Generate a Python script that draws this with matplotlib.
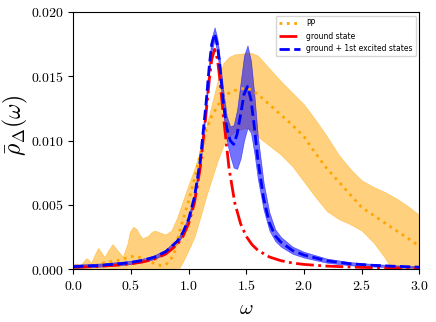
import numpy as np
import matplotlib
matplotlib.use("Agg")
import matplotlib.pyplot as plt
from matplotlib.ticker import FormatStrFormatter

plt.rcParams["mathtext.fontset"] = "cm"

# values, in units of 1e-3

# PP (orange, dotted mean + band)
w_pp = [0.0, 0.1, 0.2, 0.26, 0.3, 0.4, 0.45, 0.53, 0.6, 0.65, 0.7, 0.76, 0.8, 0.84, 0.88,
        0.92, 0.95, 1.0, 1.05, 1.1, 1.15, 1.2, 1.25, 1.3, 1.35, 1.4, 1.45, 1.5, 1.55, 1.6,
        1.7, 1.8, 1.9, 2.0, 2.1, 2.2, 2.3, 2.4, 2.5, 2.6, 2.7, 2.8, 2.9, 3.0]
pp_mean = [0.15, 0.2, 0.3, 0.47, 0.55, 0.7, 0.85, 1.03, 0.86, 0.65, 0.45, 0.28, 0.35, 0.65, 1.4,
           2.9, 3.8, 5.3, 7.0, 8.9, 10.8, 11.9, 12.7, 13.3, 13.7, 13.9, 14.0, 14.1, 13.9, 13.6,
           12.8, 12.0, 11.2, 10.3, 9.0, 7.8, 6.8, 5.8, 4.8, 4.2, 3.6, 3.0, 2.4, 1.8]

w_pp_up = [0.0, 0.03, 0.06, 0.09, 0.11, 0.13, 0.155, 0.19, 0.215, 0.24, 0.27, 0.30, 0.34,
           0.38, 0.43, 0.47, 0.49, 0.52, 0.55, 0.57, 0.60, 0.65, 0.68, 0.71, 0.75, 0.80,
           0.85, 0.9, 0.95, 1.0, 1.05, 1.1, 1.15, 1.2, 1.25, 1.3, 1.35, 1.4, 1.5, 1.55, 1.6,
           1.7, 1.8, 1.9, 2.0, 2.1, 2.2, 2.3, 2.4, 2.5, 2.6, 2.7, 2.8, 2.9, 3.0]
pp_up = [0.35, 0.45, 0.3, 0.6, 0.85, 0.75, 0.5, 1.2, 1.65, 1.35, 0.95, 1.4, 1.95,
         1.5, 0.98, 2.0, 2.9, 3.3, 3.1, 2.75, 2.4, 2.6, 2.9, 3.0, 2.85, 2.7,
         3.0, 4.0, 5.3, 6.6, 7.8, 9.2, 11.0, 12.8, 14.6, 16.0, 16.5, 16.7, 16.8, 16.8, 16.6,
         15.6, 14.6, 13.7, 12.8, 11.6, 10.3, 8.9, 7.8, 6.9, 6.4, 6.0, 5.5, 4.9, 4.2]

w_pp_lo = [0.0, 0.5, 0.8, 0.92, 1.0, 1.05, 1.1, 1.15, 1.2, 1.25, 1.3, 1.35, 1.4, 1.45, 1.5,
           1.55, 1.6, 1.7, 1.8, 1.9, 2.0, 2.1, 2.2, 2.3, 2.4, 2.5, 2.6, 2.7, 2.75, 2.8, 2.9, 3.0]
pp_lo = [-2.0, -2.0, -1.2, 0.0, 1.5, 2.5, 4.0, 5.6, 7.0, 8.4, 9.6, 10.3, 10.7, 10.9, 11.0,
         10.8, 10.3, 9.6, 8.9, 8.0, 6.8, 5.6, 4.5, 3.9, 3.5, 3.0, 2.1, 0.9, 0.2, -0.6, -1.8, -3.0]

# ground state (red)
w_gs = [0.0, 0.2, 0.4, 0.5, 0.6, 0.7, 0.8, 0.9, 0.95, 1.0, 1.05, 1.1, 1.15, 1.18, 1.2, 1.225,
        1.25, 1.27, 1.3, 1.35, 1.4, 1.45, 1.5, 1.55, 1.6, 1.7, 1.8, 1.9, 2.0, 2.2, 2.5, 2.8, 3.0]
gs = [0.15, 0.21, 0.33, 0.42, 0.56, 0.78, 1.17, 1.9, 2.54, 3.54, 5.15, 7.84, 12.0, 14.8, 16.3, 17.1,
      16.3, 14.8, 12.0, 7.84, 5.15, 3.54, 2.54, 1.9, 1.47, 0.95, 0.66, 0.48, 0.37, 0.24, 0.14, 0.09, 0.07]

# ground + 1st excited states (blue)
w_ex = [0.0, 0.2, 0.4, 0.5, 0.6, 0.7, 0.8, 0.9, 0.95, 1.0, 1.05, 1.1, 1.15, 1.18, 1.2, 1.225,
        1.25, 1.27, 1.3, 1.33, 1.36, 1.39, 1.42, 1.45, 1.48, 1.51, 1.54, 1.57, 1.6, 1.65, 1.7,
        1.75, 1.8, 1.9, 2.0, 2.2, 2.4, 2.6, 2.8, 3.0]
ex = [0.2, 0.28, 0.42, 0.52, 0.68, 0.92, 1.35, 2.15, 2.85, 3.9, 5.6, 8.4, 12.8, 15.9, 17.5, 18.3,
      17.4, 15.8, 13.0, 11.0, 10.0, 9.7, 10.5, 12.0, 13.6, 14.2, 13.2, 11.0, 8.5, 5.5, 3.6,
      2.6, 2.1, 1.45, 1.1, 0.65, 0.42, 0.3, 0.22, 0.16]
ex_up = [0.35, 0.42, 0.56, 0.66, 0.82, 1.07, 1.52, 2.35, 3.05, 4.15, 5.9, 8.8, 13.3, 16.4, 18.0, 18.8,
         17.9, 16.4, 13.9, 11.9, 11.1, 11.2, 12.4, 14.5, 16.6, 17.4, 16.2, 13.5, 10.3, 6.7, 4.4,
         3.1, 2.5, 1.75, 1.35, 0.82, 0.55, 0.4, 0.3, 0.22]
ex_lo = [0.1, 0.18, 0.3, 0.4, 0.55, 0.78, 1.2, 1.95, 2.65, 3.7, 5.3, 8.0, 12.3, 15.4, 17.0, 17.8,
         16.8, 15.2, 12.1, 10.0, 8.8, 7.9, 7.8, 8.6, 10.0, 11.0, 10.6, 9.0, 7.0, 4.6, 3.0,
         2.2, 1.75, 1.2, 0.9, 0.5, 0.3, 0.2, 0.14, 0.1]

s = 1e-3

fig, ax = plt.subplots(figsize=(4.36, 3.22), dpi=100)
fig.subplots_adjust(left=0.168, right=0.962, bottom=0.164, top=0.963)

ax.fill_between(w_pp_up, np.array(pp_up) * s, np.interp(w_pp_up, w_pp_lo, pp_lo) * s,
                color="orange", alpha=0.5, lw=0.5)
ax.plot(w_pp, np.array(pp_mean) * s, ":", color="orange", lw=2, label="PP")

ax.fill_between(w_ex, np.array(ex_up) * s, np.array(ex_lo) * s, color="blue", alpha=0.55, lw=0.5)
ax.plot(w_gs, np.array(gs) * s, "-.", color="red", lw=2, label="ground state")
ax.plot(w_ex, np.array(ex) * s, "--", color="blue", lw=2, label="ground + 1st excited states")

ax.set_xlim(0, 3)
ax.set_ylim(0, 0.02)
ax.set_xticks(np.arange(0, 3.01, 0.5))
ax.set_yticks(np.arange(0, 0.0201, 0.005))
ax.xaxis.set_major_formatter(FormatStrFormatter(r"$%.1f$"))
ax.yaxis.set_major_formatter(FormatStrFormatter(r"$%.3f$"))
ax.tick_params(labelsize=10, length=3.5)

ax.set_xlabel(r"$\omega$", fontsize=15)
ax.set_ylabel(r"$\bar{\rho}_{\Delta}(\omega)$", fontsize=17)
ax.yaxis.set_label_coords(-0.125, 0.56)

ax.legend(loc="upper right", fontsize=5.5, handlelength=2.8)

fig.savefig("out.png", dpi=100)
